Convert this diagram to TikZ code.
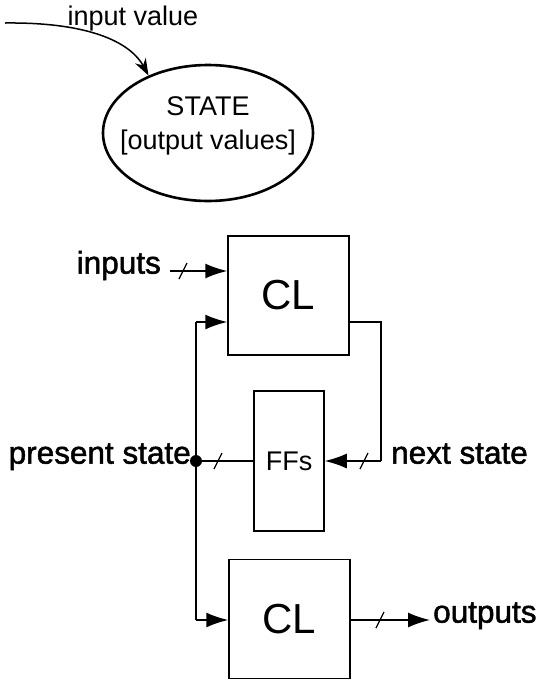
\documentclass[tikz,border=0pt]{standalone}
\usepackage{fontspec}
\setmainfont{Liberation Sans}
\newfontfamily\lblfont[FakeBold=1.6]{Liberation Sans}
\usetikzlibrary{arrows.meta,shapes.geometric,calc}
\begin{document}
\begin{tikzpicture}[x=1pt,y=-1pt,
  clbox/.style={draw, line width=1.5pt, minimum width=121pt, minimum height=119pt, inner sep=0pt, font=\fontsize{42}{50}\selectfont},
  ffbox/.style={draw, line width=1.5pt, minimum width=70pt, minimum height=140pt, inner sep=0pt, font=\fontsize{27}{32}\selectfont},
  lbl/.style={font=\lblfont\fontsize{31.5}{36}\selectfont, inner sep=0pt},
  toptext/.style={font=\fontsize{27}{32}\selectfont, inner sep=0pt},
  stateell/.style={draw, ellipse, line width=2.6pt, minimum width=210pt, minimum height=136pt, inner sep=0pt},
  bus/.style={line width=1.5pt},
  busarrow/.style={bus, -{Latex[length=22pt,width=15pt]}},
  slashmark/.style={line width=1.2pt}
]
\useasboundingbox (0,0) rectangle (539,681);

% --- state bubble ---
\node[stateell] (st) at (208,133) {};
\node[toptext, anchor=base] (stt) at (208,115) {STATE};
\node[toptext, anchor=base] (sto) at (208,149) {[output values]};
\node[toptext, anchor=base] (ivl) at (133,25) {input value};
\coordinate (cs) at (5,23);
\draw[line width=1.5pt, -{Stealth[length=17pt,width=12pt]}] (cs) .. controls (95,22) and (132,45) .. (st.136);

% --- blocks ---
\node[clbox] (cl1) at (288.5,295.5) {CL};
\node[ffbox] (ffs) at (289,461) {FFs};
\node[clbox] (cl2) at (289.5,619) {CL};

% --- labels ---
\node[lbl, anchor=mid east] (inl) at (161,271) {inputs};
\node[lbl, anchor=mid east] (psl) at (191,461) {present state};
\node[lbl, anchor=mid west] (nsl) at (391,461) {next state};
\node[lbl, anchor=mid west] (outl) at (433,620) {outputs};

% --- connectors ---
\coordinate (inS) at (170,271);
\draw[busarrow] (inS) -- (inS -| cl1.west);
\draw[slashmark] (183,271) ++(-4,8) -- ++(8,-16);

\coordinate (ps) at (196,461);
\coordinate (tp) at (196,322);
\coordinate (bt) at (196,620);
\draw[bus] (tp) -- (bt);
\draw[busarrow] (tp) -- (tp -| cl1.west);
\draw[busarrow] (bt) -- (bt -| cl2.west);
\draw[bus] (ffs.west) -- (ps);
\fill (ps) circle (6pt);
\draw[slashmark] (218,461) ++(-4,8) -- ++(8,-16);

\coordinate (ns) at (381,461);
\draw[bus] (cl1.east |- tp) -- (tp -| ns) -- (ns);
\draw[busarrow] (ns) -- (ffs.east);
\draw[slashmark] (364,461) ++(-4,8) -- ++(8,-16);

\coordinate (outE) at (430,620);
\draw[busarrow] (bt -| cl2.east) -- (outE);
\draw[slashmark] (380,620) ++(-4,8) -- ++(8,-16);
\end{tikzpicture}
\end{document}
